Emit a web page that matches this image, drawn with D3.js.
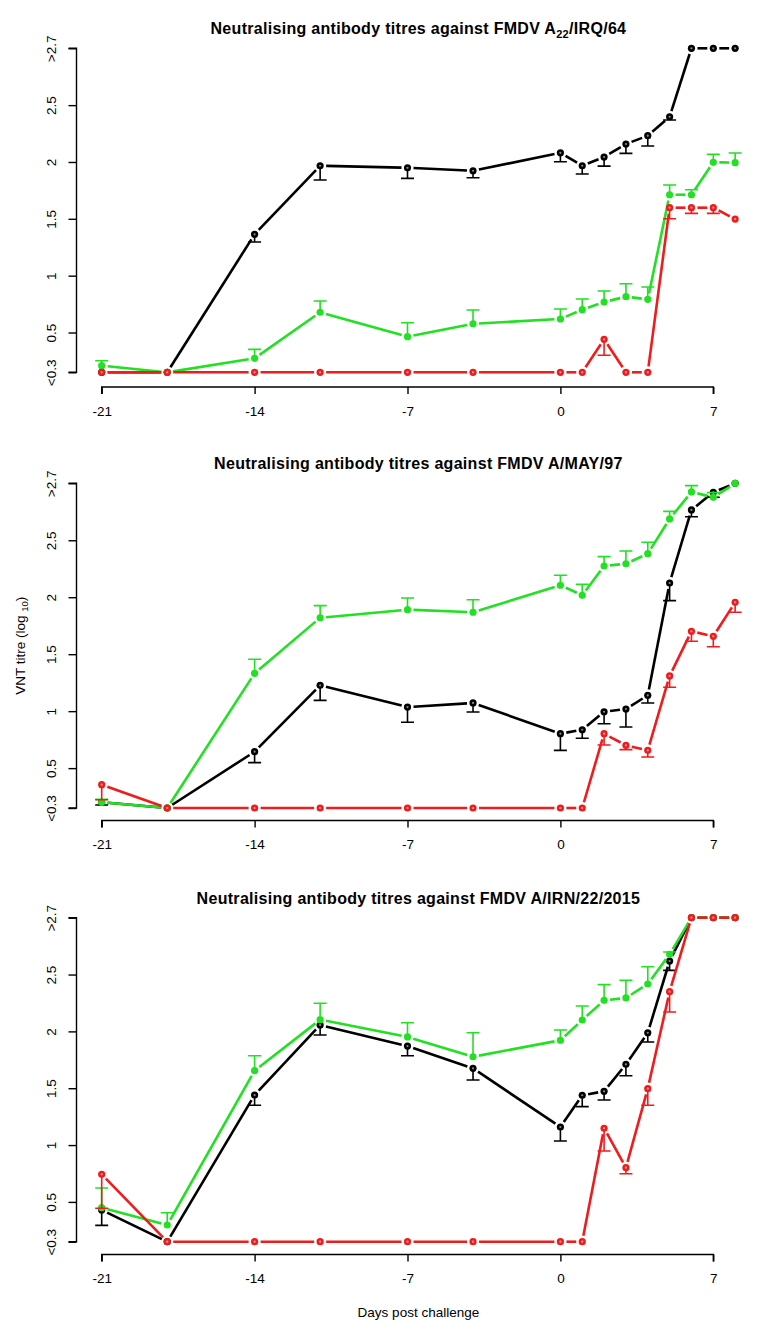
<!DOCTYPE html>
<html>
<head>
<meta charset="utf-8">
<script src="https://cdn.jsdelivr.net/npm/d3@7"></script>
<style>
  html, body { margin: 0; padding: 0; background: #fff; }
  svg { display: block; font-family: "Liberation Sans", Arial, sans-serif; }
</style>
</head>
<body>
<svg id="chart" width="757" height="1333"></svg>
<script>
// ---------- DATA ----------
const days = [-21, -18, -14, -11, -7, -4, 0, 1, 2, 3, 4, 5, 6, 7, 8];
const xTicks = [-21, -14, -7, 0, 7];
const xTickLabels = ["-21", "-14", "-7", "0", "7"];
const yTickValues = [0.15, 0.5, 1, 1.5, 2, 2.5, 3.0];
const yTickLabels = ["<0.3", "0.5", "1", "1.5", "2", "2.5", ">2.7"];

// Panel 1: A22/IRQ/64
const a22Black    = [0.15, 0.15, 1.364, 1.967, 1.949, 1.923, 2.081, 1.967, 2.044, 2.158, 2.231, 2.398, 3.0, 3.0, 3.0];
const a22BlackErr = [null, null, 1.296, 1.841, 1.856, 1.861, 2.002, 1.894, 1.964, 2.076, 2.140, 2.369, null, null, null];
const a22Green    = [0.208, 0.15, 0.273, 0.678, 0.463, 0.577, 0.619, 0.701, 0.768, 0.815, 0.792, 1.712, 1.712, 1.997, 1.994];
const a22GreenErr = [0.252, null, 0.352, 0.777, 0.586, 0.698, 0.707, 0.795, 0.865, 0.929, 0.900, 1.797, 1.756, 2.067, 2.079];
const a22Red      = [0.15, 0.15, 0.15, 0.15, 0.15, 0.15, 0.15, 0.15, 0.44, 0.15, 0.15, 1.598, 1.598, 1.598, 1.498];
const a22RedErr   = [null, null, null, null, null, null, null, null, 0.30, null, null, 1.501, 1.548, 1.548, null];

// Panel 2: A/MAY/97
const mayBlack    = [0.20, 0.15, 0.644, 1.227, 1.036, 1.072, 0.802, 0.837, 0.995, 1.019, 1.139, 2.125, 2.766, 2.921, 3.0];
const mayBlackErr = [0.176, null, 0.548, 1.095, 0.902, 0.993, 0.656, 0.762, 0.890, 0.861, 1.072, 1.970, 2.707, 2.877, null];
const mayGreen    = [0.20, 0.15, 1.332, 1.820, 1.891, 1.868, 2.105, 2.017, 2.274, 2.294, 2.382, 2.687, 2.924, 2.877, 3.0];
const mayGreenErr = [0.226, null, 1.455, 1.926, 1.993, 1.978, 2.193, 2.113, 2.356, 2.406, 2.482, 2.754, 2.980, 2.918, null];
const mayRed      = [0.355, 0.15, 0.15, 0.15, 0.15, 0.15, 0.15, 0.15, 0.802, 0.700, 0.656, 1.309, 1.701, 1.657, 1.955];
const mayRedErr   = [0.223, null, null, null, null, null, null, null, 0.703, 0.662, 0.598, 1.210, 1.613, 1.566, 1.868];

// Panel 3: A/IRN/22/2015
const irnBlack    = [0.429, 0.15, 1.440, 2.056, 1.871, 1.675, 1.159, 1.438, 1.473, 1.710, 1.988, 2.619, 3.0, 3.0, 3.0];
const irnBlackErr = [0.294, null, 1.350, 1.968, 1.786, 1.572, 1.036, 1.338, 1.397, 1.610, 1.907, 2.537, null, null, null];
const irnGreen    = [0.449, 0.297, 1.654, 2.103, 1.951, 1.777, 1.922, 2.100, 2.273, 2.294, 2.417, 2.678, 3.0, 3.0, 3.0];
const irnGreenErr = [0.622, 0.405, 1.786, 2.247, 2.076, 1.988, 2.012, 2.223, 2.411, 2.449, 2.569, 2.698, null, null, null];
const irnRed      = [0.743, 0.15, 0.15, 0.15, 0.15, 0.15, 0.15, 0.15, 1.148, 0.801, 1.496, 2.349, 3.0, 3.0, 3.0];
const irnRedErr   = [0.444, null, null, null, null, null, null, null, 0.948, 0.748, 1.350, 2.171, null, null, null];

const panelTitles = [
  ["Neutralising antibody titres against FMDV A", "22", "/IRQ/64"],
  ["Neutralising antibody titres against FMDV A/MAY/97", "", ""],
  ["Neutralising antibody titres against FMDV A/IRN/22/2015", "", ""]
];

// ---------- STYLE / LAYOUT ----------
const colors = { black: "#000000", green: "#22e022", red: "#ee1c1c" };
const inner  = { black: "#8a8a8a", green: null, red: "#ff9a9a" };

const panels = [
  { top: 48.3,  bottom: 372.3,  axisY: 387.0, title: panelTitles[0],
    series: [["black", a22Black, a22BlackErr], ["green", a22Green, a22GreenErr], ["red", a22Red, a22RedErr]] },
  { top: 483.3, bottom: 808.0,  axisY: 820.5, title: panelTitles[1],
    series: [["black", mayBlack, mayBlackErr], ["green", mayGreen, mayGreenErr], ["red", mayRed, mayRedErr]] },
  { top: 917.7, bottom: 1241.7, axisY: 1254.5, title: panelTitles[2],
    series: [["black", irnBlack, irnBlackErr], ["green", irnGreen, irnGreenErr], ["red", irnRed, irnRedErr]] }
];

const svg = d3.select("#chart");
const x = d3.scaleLinear().domain([-21, 7]).range([101.7, 713.3]);
const axisX = 76.5;
const gap = 6;       // type="b" gap around points
const capW = 6.5;    // half cap width
const FONT = '"Liberation Sans", Arial, sans-serif';

panels.forEach(p => {
  const y = d3.scaleLinear().domain([0.15, 3.0]).range([p.bottom, p.top]);
  const g = svg.append("g");

  // Y axis (left, at plot edge)
  const yAxis = d3.axisLeft(y).tickValues(yTickValues)
    .tickFormat((d, i) => yTickLabels[i]).tickSize(8).tickPadding(0);
  const ya = g.append("g").attr("transform", `translate(${axisX},0)`).call(yAxis);
  ya.select(".domain").attr("d", `M-8,${p.bottom}H0V${p.top}H-8`).attr("stroke", "#000").attr("stroke-width", 1.4);
  ya.selectAll(".tick line").attr("stroke", "#000").attr("stroke-width", 1.4);
  ya.selectAll(".tick text")
    .attr("x", 0).attr("dy", null).attr("y", 0)
    .attr("text-anchor", "middle")
    .attr("transform", "translate(-21,0) rotate(-90)")
    .style("font-size", "13.5px").style("font-family", FONT)
    .attr("fill", "#000");

  // X axis
  const xAxis = d3.axisBottom(x).tickValues(xTicks)
    .tickFormat((d, i) => xTickLabels[i]).tickSize(7).tickPadding(12);
  const xa = g.append("g").attr("transform", `translate(0,${p.axisY})`).call(xAxis);
  xa.select(".domain").attr("d", `M${x(-21)},7V0H${x(7)}V7`).attr("stroke", "#000").attr("stroke-width", 1.4);
  xa.selectAll(".tick line").attr("stroke", "#000").attr("stroke-width", 1.4);
  xa.selectAll(".tick text").style("font-size", "13.5px")
    .style("font-family", FONT).attr("fill", "#000");

  // Title
  const t = g.append("text").attr("x", 418.4).attr("y", p.top - 14)
    .attr("text-anchor", "middle").style("font-size", "16px").style("font-weight", "bold")
    .style("letter-spacing", "0.3px");
  t.append("tspan").text(p.title[0]);
  if (p.title[1]) {
    t.append("tspan").text(p.title[1]).style("font-size", "11px").attr("dy", 4);
    t.append("tspan").text(p.title[2]).attr("dy", -4);
  }

  // Series
  p.series.forEach(([name, vals, errs]) => {
    const col = colors[name];
    const pts = days.map((d, i) => ({ d, v: vals[i], e: errs[i], px: x(d), py: y(vals[i]) }));
    // lines with gaps (type = "b")
    for (let i = 0; i < pts.length - 1; i++) {
      const a = pts[i], b = pts[i + 1];
      const dx = b.px - a.px, dy = b.py - a.py;
      const L = Math.hypot(dx, dy);
      if (L <= 2 * gap) continue;
      const ux = dx / L, uy = dy / L;
      g.append("line")
        .attr("x1", a.px + ux * gap).attr("y1", a.py + uy * gap)
        .attr("x2", b.px - ux * gap).attr("y2", b.py - uy * gap)
        .attr("stroke", col).attr("stroke-width", 2.6);
    }
    // error bars
    const eb = pts.filter(q => q.e !== null && q.e !== undefined);
    g.selectAll(null).data(eb).enter().append("path")
      .attr("d", q => `M${q.px},${q.py}V${y(q.e)}M${q.px - capW},${y(q.e)}H${q.px + capW}`)
      .attr("fill", "none").attr("stroke", col).attr("stroke-width", 1.6);
    // points
    g.selectAll(null).data(pts).enter().append("circle")
      .attr("cx", q => q.px).attr("cy", q => q.py).attr("r", 3.6).attr("fill", col);
    if (inner[name]) {
      g.selectAll(null).data(pts).enter().append("circle")
        .attr("cx", q => q.px).attr("cy", q => q.py).attr("r", 1.1).attr("fill", inner[name]);
    }
  });
});

// Axis titles
const yl = svg.append("text").attr("transform", "translate(25,645.7) rotate(-90)")
  .attr("text-anchor", "middle").style("font-size", "13.5px");
yl.append("tspan").text("VNT titre (log ");
yl.append("tspan").text("10").style("font-size", "9.5px").attr("dy", 3);
yl.append("tspan").text(")").attr("dy", -3);

svg.append("text").attr("x", 418.4).attr("y", 1317).attr("text-anchor", "middle")
  .style("font-size", "13.5px").text("Days post challenge");
</script>
</body>
</html>
